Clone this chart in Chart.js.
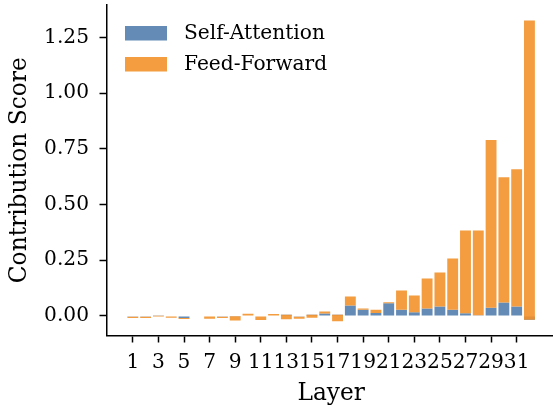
<!DOCTYPE html>
<html>
<head>
<meta charset="utf-8">
<script src="https://cdn.jsdelivr.net/npm/chart.js@4/dist/chart.umd.min.js"></script>
<style>
  html, body { margin:0; padding:0; background:#fff; overflow:hidden; }
  #wrap { width:560px; height:408px; }
</style>
</head>
<body>
<div id="wrap"><canvas id="chart" width="560" height="408"></canvas></div>
<script>
// layer index and per-layer contributions
const layers = [1,2,3,4,5,6,7,8,9,10,11,12,13,14,15,16,17,18,19,20,21,22,23,24,25,26,27,28,29,30,31,32];
const attnScores = [-0.004,-0.004,0.001,-0.003,-0.009,0.000,-0.003,-0.004,-0.002,0.000,-0.003,0.000,0.005,-0.004,0.005,0.011,
                    0.005,0.047,0.028,0.013,0.057,0.028,0.016,0.033,0.042,0.028,0.012,0.003,0.037,0.060,0.042,-0.017];
const ffnScores = [-0.006,-0.006,-0.004,-0.005,-0.005,-0.003,-0.010,-0.005,-0.019,0.010,-0.016,0.008,-0.020,-0.009,-0.013,0.009,
                   -0.029,0.040,0.005,0.015,0.004,0.086,0.075,0.135,0.153,0.230,0.371,0.380,0.752,0.562,0.616,1.342];
const xTicks = [1,3,5,7,9,11,13,15,17,19,21,23,25,27,29,31];
const yTicks = [0,0.25,0.5,0.75,1.0,1.25];
const seriesNames = ['Self-Attention','Feed-Forward'];

const FONT = "'DejaVu Serif', serif";

// attention bar from 0, feed-forward bar stacked on top of it (matplotlib bottom=attn)
const attnBars = layers.map((l,i)=>({x:l, y:[0, attnScores[i]]}));
const ffnBars = layers.map((l,i)=>({x:l, y:[attnScores[i], attnScores[i]+ffnScores[i]]}));

// legend drawn inside the axes, upper left
const innerLegend = {
  id:'innerLegend',
  afterDraw(chart){
    const {ctx, chartArea} = chart;
    ctx.save();
    ctx.font = `20.2px ${FONT}`;
    ctx.textBaseline = 'middle';
    chart.data.datasets.forEach((ds,i)=>{
      const y = chartArea.top + 21 + i*31;
      ctx.fillStyle = ds.backgroundColor;
      ctx.fillRect(chartArea.left + 18, y, 42, 14.5);
      ctx.fillStyle = '#000';
      ctx.fillText(ds.label, chartArea.left + 77, y + 8);
    });
    ctx.restore();
  }
};

new Chart(document.getElementById('chart').getContext('2d'), {
  type:'bar',
  data:{
    datasets:[
      {label:seriesNames[0], data:attnBars, backgroundColor:'rgba(78,123,171,0.88)', order:1},
      {label:seriesNames[1], data:ffnBars, backgroundColor:'rgba(242,145,43,0.90)', order:0}
    ]
  },
  options:{
    responsive:false,
    animation:false,
    devicePixelRatio:1,
    layout:{padding:{left:0, top:5, right:4.7, bottom:0}},
    datasets:{bar:{grouped:false, barPercentage:0.85, categoryPercentage:1.0, borderWidth:0}},
    plugins:{legend:{display:false}, tooltip:{enabled:false}},
    scales:{
      x:{
        type:'linear', min:-1.02, max:34.02, offset:false,
        afterBuildTicks: s => { s.ticks = xTicks.map(v=>({value:v})); },
        afterFit: s => { s.height = 72.5; s.paddingLeft = 0; s.paddingRight = 0; },
        grid:{display:true, offset:false, drawOnChartArea:false, drawTicks:true, tickLength:7, tickWidth:1.5, tickColor:'#000'},
        border:{display:true, color:'#000', width:1.5},
        ticks:{autoSkip:false, maxRotation:0, minRotation:0, padding:8, color:'#000',
               font:{family:FONT, size:20.2}, callback:v=>String(v)},
        title:{display:true, text:'Layer', color:'#000', font:{family:FONT, size:23.3, lineHeight:1.0}, padding:{top:0,bottom:2.7}}
      },
      y:{
        min:-0.088, max:1.395,
        afterBuildTicks: s => { s.ticks = yTicks.map(v=>({value:v})); },
        afterFit: s => { s.width = 107; s.paddingTop = 0; s.paddingBottom = 0; },
        grid:{display:true, drawOnChartArea:false, drawTicks:true, tickLength:7.5, tickWidth:1.5, tickColor:'#000'},
        border:{display:true, color:'#000', width:1.5},
        ticks:{padding:10.5, color:'#000', font:{family:FONT, size:20.2}, callback:v=>v.toFixed(2)},
        title:{display:true, text:'Contribution Score', color:'#000', font:{family:FONT, size:23.3, lineHeight:1.0}, padding:{top:8.5,bottom:0}}
      }
    }
  },
  plugins:[innerLegend]
});
</script>
</body>
</html>
